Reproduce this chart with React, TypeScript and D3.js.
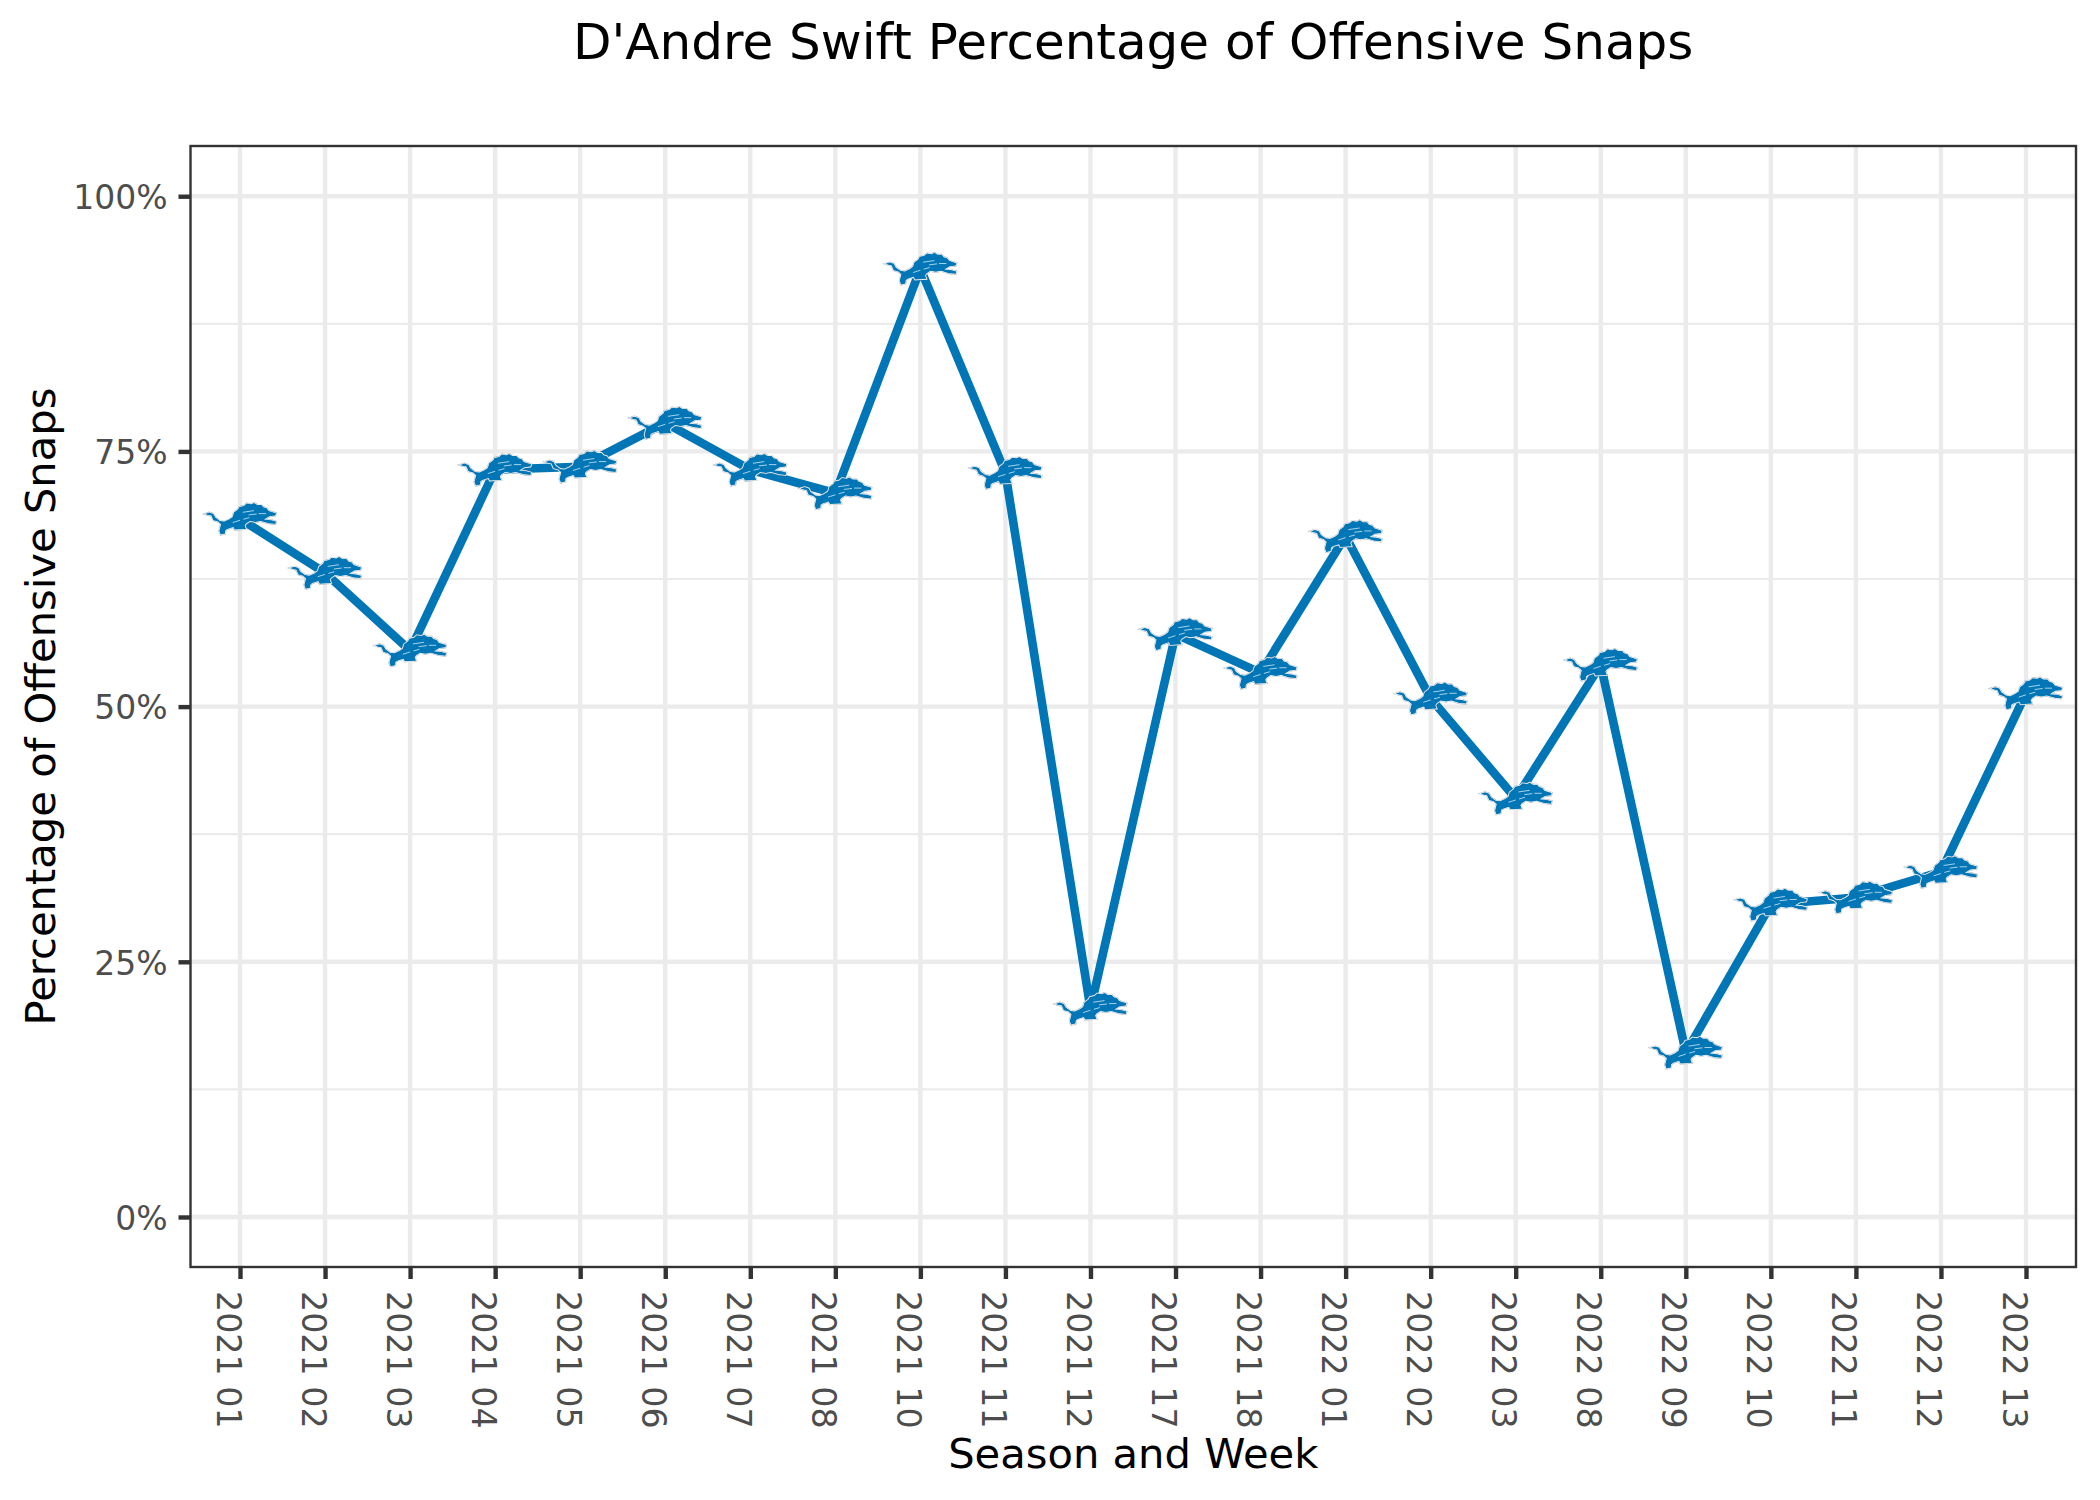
import React, { useEffect, useRef } from 'react';
import * as d3 from 'd3';

const weeks = [
  '2021 01', '2021 02', '2021 03', '2021 04', '2021 05', '2021 06', '2021 07', '2021 08',
  '2021 10', '2021 11', '2021 12', '2021 17', '2021 18', '2022 01', '2022 02', '2022 03',
  '2022 08', '2022 09', '2022 10', '2022 11', '2022 12', '2022 13',
];
const snapPct = [
  68.4, 63.1, 55.5, 73.2, 73.5, 77.8, 73.2, 70.9,
  92.9, 72.9, 20.4, 57.1, 53.3, 66.7, 50.8, 41.0,
  54.1, 16.1, 30.6, 31.3, 33.8, 51.3,
];
const majorYTicks = [0, 25, 50, 75, 100];
const minorYTicks = [12.5, 37.5, 62.5, 87.5];

const titleText = "D'Andre Swift Percentage of Offensive Snaps";
const xTitle = 'Season and Week';
const yTitle = 'Percentage of Offensive Snaps';

const BLUE = '#0076B6';
const FONT = '"DejaVu Sans", sans-serif';

// lion glyph, drawn around its own centre
const lionBody =
  'M45 101 L58 97 L70 101 L76 112 L90 122 L103 124 L118 117 L128 110 L132 97 L144 88 L148 80 L162 77 L170 70 L184 72 L192 68 L202 74 L214 74 L220 81 L230 84 L236 92 L258 99 L256 106 L238 108 L228 114 L222 118 L244 120 L258 124 L256 131 L236 129 L212 122 L196 125 L180 122 L168 130 L164 136 L168 146 L134 148 L130 140 L112 146 L106 150 L105 160 L92 163 L88 152 L93 132 L84 124 L70 120 L64 106 L54 104 Z';
const lionStreaks = 'M158 96 L192 91 M176 104 L200 101 M206 100 L228 100 M128 127 L150 120 M160 117 L178 112';

const App: React.FC = () => {
  const ref = useRef<SVGSVGElement | null>(null);

  useEffect(() => {
    if (!ref.current) return;
    const left = 190.5, right = 2076, top = 146, bottom = 1267;

    const svg = d3.select(ref.current);
    svg.selectAll('*').remove();

    const lion = svg.append('defs').append('g').attr('id', 'lion')
      .attr('transform', 'scale(0.3333) translate(-150,-115.5)');
    lion.append('path').attr('d', lionBody).attr('fill', 'none').attr('stroke', '#a9b0b5').attr('stroke-width', 6);
    lion.append('path').attr('d', lionBody).attr('fill', 'none').attr('stroke', '#ffffff').attr('stroke-width', 3.5);
    lion.append('path').attr('d', lionBody).attr('fill', BLUE);
    lion.append('path').attr('d', lionStreaks).attr('fill', 'none').attr('stroke', '#ffffff').attr('stroke-width', 2);

    const x = d3.scalePoint<string>().domain(weeks).range([240, 2026]);
    const y = d3.scaleLinear().domain([-4.9, 104.92]).range([bottom, top]);

    svg.append('rect').attr('width', 2100).attr('height', 1500).attr('fill', '#ffffff');

    // grid
    svg.append('g').selectAll('line').data(minorYTicks).enter().append('line')
      .attr('x1', left).attr('x2', right)
      .attr('y1', d => y(d)).attr('y2', d => y(d))
      .attr('stroke', '#ebebeb').attr('stroke-width', 2.2);
    svg.append('g').selectAll('line').data(majorYTicks).enter().append('line')
      .attr('x1', left).attr('x2', right)
      .attr('y1', d => y(d)).attr('y2', d => y(d))
      .attr('stroke', '#ebebeb').attr('stroke-width', 4.4);
    svg.append('g').selectAll('line').data(weeks).enter().append('line')
      .attr('y1', top).attr('y2', bottom)
      .attr('x1', d => x(d) ?? 0).attr('x2', d => x(d) ?? 0)
      .attr('stroke', '#ebebeb').attr('stroke-width', 4.4);

    // line + logos
    const line = d3.line<number>()
      .x((_, i) => x(weeks[i]) ?? 0)
      .y(d => y(d));
    svg.append('path').datum(snapPct)
      .attr('d', line)
      .attr('fill', 'none')
      .attr('stroke', BLUE)
      .attr('stroke-width', 8.6)
      .attr('stroke-linejoin', 'round');
    svg.append('g').selectAll('use').data(snapPct).enter().append('use')
      .attr('href', '#lion')
      .attr('transform', (d, i) => `translate(${x(weeks[i])},${y(d)})`);

    // panel border
    svg.append('rect')
      .attr('x', left).attr('y', top)
      .attr('width', right - left).attr('height', bottom - top)
      .attr('fill', 'none').attr('stroke', '#333333').attr('stroke-width', 2.4);

    // axes
    const xAxis = svg.append('g')
      .attr('transform', `translate(0,${bottom})`)
      .call(d3.axisBottom(x).tickSize(12).tickSizeOuter(0));
    xAxis.select('.domain').remove();
    xAxis.selectAll('.tick line').attr('stroke', '#333333').attr('stroke-width', 4.4);
    xAxis.selectAll('.tick text')
      .attr('transform', 'rotate(90)')
      .attr('x', 24).attr('y', 24).attr('dy', 0)
      .attr('text-anchor', 'start')
      .attr('fill', '#4d4d4d')
      .style('font-family', FONT).style('font-size', '33.3px');

    const yAxis = svg.append('g')
      .attr('transform', `translate(${left},0)`)
      .call(d3.axisLeft(y).tickValues(majorYTicks).tickSize(12).tickSizeOuter(0).tickPadding(11)
        .tickFormat(d => `${d}%`));
    yAxis.select('.domain').remove();
    yAxis.selectAll('.tick line').attr('stroke', '#333333').attr('stroke-width', 4.4);
    yAxis.selectAll('.tick text')
      .attr('dy', '0.37em')
      .attr('fill', '#4d4d4d')
      .style('font-family', FONT).style('font-size', '33px');

    // titles
    svg.append('text')
      .attr('x', (left + right) / 2).attr('y', 59)
      .attr('text-anchor', 'middle')
      .style('font-family', FONT).style('font-size', '50px')
      .text(titleText);
    svg.append('text')
      .attr('x', (left + right) / 2).attr('y', 1468)
      .attr('text-anchor', 'middle')
      .style('font-family', FONT).style('font-size', '41.67px')
      .text(xTitle);
    svg.append('text')
      .attr('transform', `translate(55,${(top + bottom) / 2}) rotate(-90)`)
      .attr('text-anchor', 'middle')
      .style('font-family', FONT).style('font-size', '41.67px')
      .text(yTitle);
  }, []);

  return (
    <svg
      ref={ref}
      width={2100}
      height={1500}
      style={{ position: 'absolute', left: 0, top: 0, display: 'block' }}
    />
  );
};

export default App;
